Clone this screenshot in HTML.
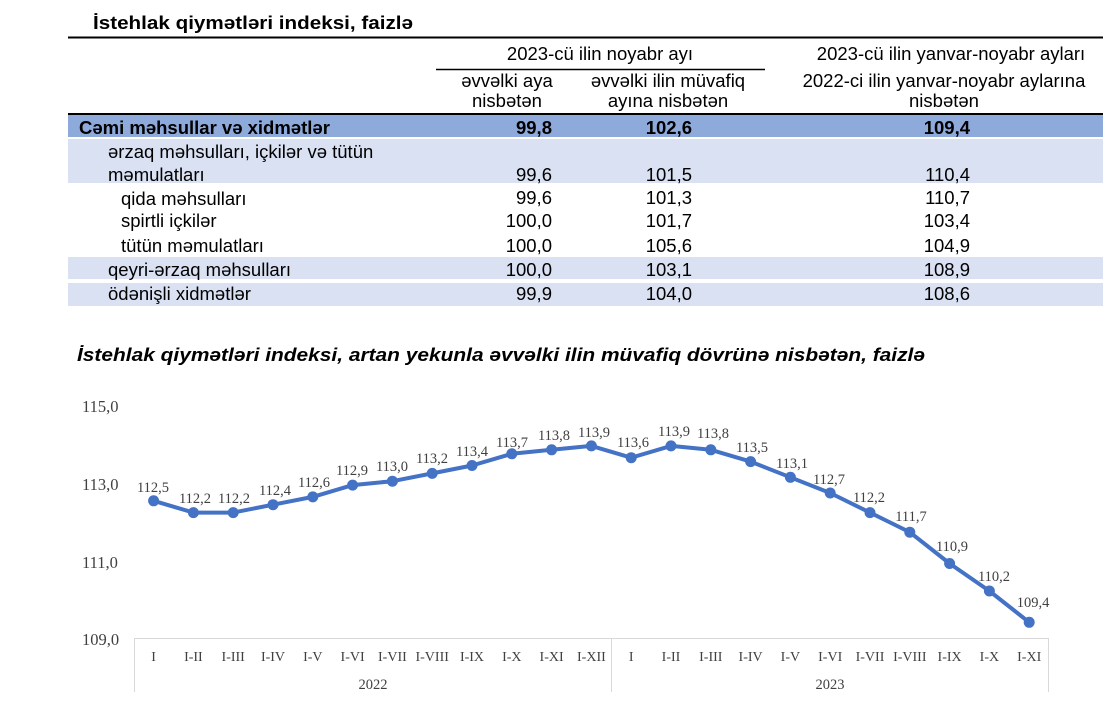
<!DOCTYPE html>
<html><head><meta charset="utf-8"><style>
html,body{margin:0;padding:0;background:#fff;}
svg{display:block;}
.s{font-family:"Liberation Sans",Arial,sans-serif;fill:#000;font-size:18.5px;}
.r{font-family:"Liberation Serif",serif;fill:#404040;}
</style></head><body>
<svg width="1113" height="722" viewBox="0 0 1113 722" xmlns="http://www.w3.org/2000/svg">
<text class="s" x="93" y="29" font-weight="bold" font-size="18" textLength="320" lengthAdjust="spacingAndGlyphs">İstehlak qiymətləri indeksi, faizlə</text>
<line x1="68" y1="37.5" x2="1103" y2="37.5" stroke="#000" stroke-width="2"/>
<text class="s" x="600" y="60" text-anchor="middle">2023-cü ilin noyabr ayı</text>
<text class="s" x="951" y="60" text-anchor="middle">2023-cü ilin yanvar-noyabr ayları</text>
<line x1="436" y1="69.5" x2="765" y2="69.5" stroke="#000" stroke-width="1.5"/>
<text class="s" x="507" y="87" text-anchor="middle">əvvəlki aya</text>
<text class="s" x="507" y="107" text-anchor="middle">nisbətən</text>
<text class="s" x="668" y="87" text-anchor="middle">əvvəlki ilin müvafiq</text>
<text class="s" x="668" y="107" text-anchor="middle">ayına nisbətən</text>
<text class="s" x="944" y="87" text-anchor="middle">2022-ci ilin yanvar-noyabr aylarına</text>
<text class="s" x="944" y="107" text-anchor="middle">nisbətən</text>
<rect x="68" y="113" width="1035" height="24" fill="#8eaadb"/>
<line x1="68" y1="114" x2="1103" y2="114" stroke="#000" stroke-width="2"/>
<rect x="68" y="139" width="1035" height="44" fill="#d9e1f2"/>
<rect x="68" y="257" width="1035" height="22" fill="#d9e1f2"/>
<rect x="68" y="283" width="1035" height="23" fill="#d9e1f2"/>
<g class="s">
<text x="79" y="134" font-weight="bold">Cəmi məhsullar və xidmətlər</text>
<text x="552" y="134" font-weight="bold" text-anchor="end">99,8</text>
<text x="692" y="134" font-weight="bold" text-anchor="end">102,6</text>
<text x="970" y="134" font-weight="bold" text-anchor="end">109,4</text>
<text x="108" y="158">ərzaq məhsulları, içkilər və tütün</text>
<text x="108" y="181">məmulatları</text>
<text x="552" y="181" text-anchor="end">99,6</text><text x="692" y="181" text-anchor="end">101,5</text><text x="970" y="181" text-anchor="end">110,4</text>
<text x="121" y="205">qida məhsulları</text>
<text x="552" y="204" text-anchor="end">99,6</text><text x="692" y="204" text-anchor="end">101,3</text><text x="970" y="204" text-anchor="end">110,7</text>
<text x="121" y="227">spirtli içkilər</text>
<text x="552" y="227" text-anchor="end">100,0</text><text x="692" y="227" text-anchor="end">101,7</text><text x="970" y="227" text-anchor="end">103,4</text>
<text x="121" y="252">tütün məmulatları</text>
<text x="552" y="252" text-anchor="end">100,0</text><text x="692" y="252" text-anchor="end">105,6</text><text x="970" y="252" text-anchor="end">104,9</text>
<text x="108" y="276">qeyri-ərzaq məhsulları</text>
<text x="552" y="276" text-anchor="end">100,0</text><text x="692" y="276" text-anchor="end">103,1</text><text x="970" y="276" text-anchor="end">108,9</text>
<text x="108" y="300">ödənişli xidmətlər</text>
<text x="552" y="300" text-anchor="end">99,9</text><text x="692" y="300" text-anchor="end">104,0</text><text x="970" y="300" text-anchor="end">108,6</text>
</g>
<text class="s" x="77" y="361" font-weight="bold" font-style="italic" font-size="18" textLength="848" lengthAdjust="spacingAndGlyphs">İstehlak qiymətləri indeksi, artan yekunla əvvəlki ilin müvafiq dövrünə nisbətən, faizlə</text>
<g class="r" font-size="16.5">
<text x="82" y="412">115,0</text><text x="82" y="490">113,0</text><text x="82" y="568">111,0</text><text x="82" y="645">109,0</text>
</g>
<g stroke="#d9d9d9" stroke-width="1" fill="none">
<line x1="134" y1="638.5" x2="1049" y2="638.5"/>
<line x1="134.5" y1="638" x2="134.5" y2="692"/>
<line x1="611.5" y1="638" x2="611.5" y2="692"/>
<line x1="1048.5" y1="638" x2="1048.5" y2="692"/>
</g>
<polyline fill="none" stroke="#4472c4" stroke-width="4" stroke-linejoin="round" points="153.6,500.8 193.4,512.6 233.2,512.6 273,504.7 312.8,496.9 352.6,485.1 392.4,481.2 432.2,473.4 472,465.5 511.8,453.8 551.6,449.8 591.4,445.9 631.2,457.7 671,445.9 710.8,449.8 750.6,461.6 790.4,477.3 830.2,493 870,512.6 909.8,532.2 949.6,563.5 989.4,591 1029.2,622.3"/>
<g fill="#4472c4">
<circle cx="153.6" cy="500.8" r="5.5"/><circle cx="193.4" cy="512.6" r="5.5"/><circle cx="233.2" cy="512.6" r="5.5"/><circle cx="273" cy="504.7" r="5.5"/><circle cx="312.8" cy="496.9" r="5.5"/><circle cx="352.6" cy="485.1" r="5.5"/><circle cx="392.4" cy="481.2" r="5.5"/><circle cx="432.2" cy="473.4" r="5.5"/><circle cx="472" cy="465.5" r="5.5"/><circle cx="511.8" cy="453.8" r="5.5"/><circle cx="551.6" cy="449.8" r="5.5"/><circle cx="591.4" cy="445.9" r="5.5"/><circle cx="631.2" cy="457.7" r="5.5"/><circle cx="671" cy="445.9" r="5.5"/><circle cx="710.8" cy="449.8" r="5.5"/><circle cx="750.6" cy="461.6" r="5.5"/><circle cx="790.4" cy="477.3" r="5.5"/><circle cx="830.2" cy="493" r="5.5"/><circle cx="870" cy="512.6" r="5.5"/><circle cx="909.8" cy="532.2" r="5.5"/><circle cx="949.6" cy="563.5" r="5.5"/><circle cx="989.4" cy="591" r="5.5"/><circle cx="1029.2" cy="622.3" r="5.5"/>
</g>
<g class="r" font-size="14.5" text-anchor="middle">
<text x="153" y="492">112,5</text><text x="195" y="503">112,2</text><text x="234" y="503">112,2</text><text x="275" y="495">112,4</text><text x="314" y="487">112,6</text><text x="352" y="475">112,9</text><text x="392" y="471">113,0</text><text x="432" y="463">113,2</text><text x="472" y="456">113,4</text><text x="512" y="447">113,7</text><text x="554" y="440">113,8</text><text x="594" y="437">113,9</text><text x="633" y="447">113,6</text><text x="674" y="436">113,9</text><text x="713" y="438">113,8</text><text x="752" y="452">113,5</text><text x="792" y="468">113,1</text><text x="829" y="484">112,7</text><text x="869" y="502">112,2</text><text x="911" y="521">111,7</text><text x="952" y="551">110,9</text><text x="994" y="581">110,2</text><text x="1033" y="607">109,4</text>
</g>
<g class="r" font-size="14" text-anchor="middle">
<text x="153.6" y="661">I</text><text x="193.4" y="661">I-II</text><text x="233.2" y="661">I-III</text><text x="273" y="661">I-IV</text><text x="312.8" y="661">I-V</text><text x="352.6" y="661">I-VI</text><text x="392.4" y="661">I-VII</text><text x="432.2" y="661">I-VIII</text><text x="472" y="661">I-IX</text><text x="511.8" y="661">I-X</text><text x="551.6" y="661">I-XI</text><text x="591.4" y="661">I-XII</text>
<text x="631.2" y="661">I</text><text x="671" y="661">I-II</text><text x="710.8" y="661">I-III</text><text x="750.6" y="661">I-IV</text><text x="790.4" y="661">I-V</text><text x="830.2" y="661">I-VI</text><text x="870" y="661">I-VII</text><text x="909.8" y="661">I-VIII</text><text x="949.6" y="661">I-IX</text><text x="989.4" y="661">I-X</text><text x="1029.2" y="661">I-XI</text>
</g>
<g class="r" font-size="14.5" text-anchor="middle">
<text x="373" y="689">2022</text><text x="830" y="689">2023</text>
</g>
</svg>
</body></html>
